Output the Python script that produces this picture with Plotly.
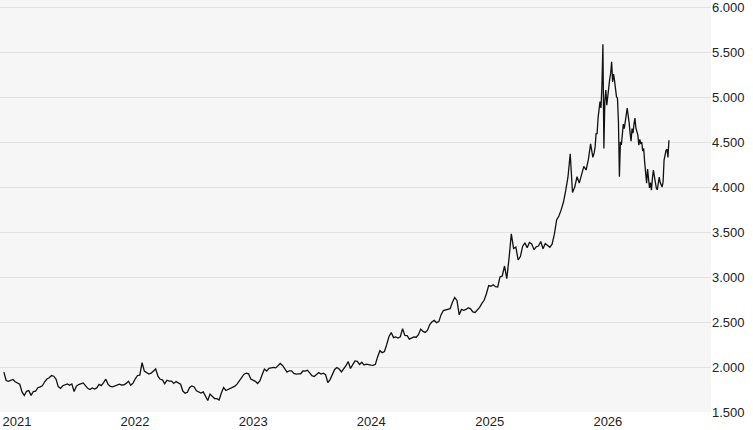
import pandas as pd
import plotly.graph_objects as go

# Weekly closes (Mondays)
prices_2021 = [1943, 1850, 1840, 1855, 1862, 1836, 1820, 1808, 1723, 1683, 1730, 1738, 1685,
               1728, 1732, 1770, 1780, 1792, 1836, 1867, 1881, 1905, 1898, 1865, 1782, 1762,
               1792, 1806, 1812, 1797, 1812, 1728, 1787, 1805, 1812, 1823, 1794, 1763, 1750,
               1767, 1755, 1768, 1806, 1793, 1826, 1865, 1807, 1785, 1779, 1787, 1796, 1810]
prices_2022 = [1800, 1802, 1818, 1842, 1797, 1821, 1869, 1906, 1910, 2048, 1955, 1936, 1922,
               1932, 1955, 1979, 1899, 1864, 1858, 1815, 1853, 1843, 1843, 1818, 1838, 1823,
               1808, 1733, 1709, 1719, 1772, 1790, 1779, 1736, 1725, 1710, 1724, 1675, 1628,
               1699, 1668, 1650, 1649, 1633, 1712, 1771, 1739, 1750, 1769, 1781, 1788, 1813]
prices_2023 = [1845, 1877, 1920, 1931, 1924, 1867, 1854, 1841, 1817, 1846, 1913, 1978, 1955,
               1985, 1990, 1995, 1990, 2015, 2040, 2017, 1972, 1944, 1958, 1958, 1930, 1922,
               1924, 1925, 1956, 1955, 1965, 1936, 1904, 1894, 1920, 1938, 1922, 1932, 1915,
               1828, 1860, 1920, 1973, 1995, 1977, 1946, 1977, 2014, 2060, 1983, 2027, 2068]
prices_2024 = [2063, 2028, 2053, 2022, 2032, 2024, 2020, 2018, 2031, 2115, 2182, 2160, 2172,
               2250, 2339, 2383, 2327, 2335, 2323, 2336, 2425, 2351, 2350, 2310, 2319, 2334,
               2331, 2359, 2422, 2396, 2385, 2410, 2472, 2503, 2518, 2493, 2505, 2582, 2628,
               2635, 2643, 2648, 2720, 2772, 2740, 2580, 2640, 2630, 2640, 2660, 2647, 2612, 2607]
prices_2025 = [2636, 2663, 2708, 2742, 2815, 2906, 2898, 2915, 2893, 2890, 3001, 3012, 3123,
               2983, 3210, 3480, 3318, 3333, 3190, 3228, 3343, 3380, 3325, 3385, 3368, 3305,
               3337, 3345, 3396, 3315, 3373, 3347, 3332, 3366, 3477, 3636, 3679, 3747, 3831,
               3960, 4110, 4370, 3940, 4000, 4115, 4045, 4135, 4230, 4190, 4305, 4480, 4330]
# 2026 sampled every three days
prices_2026 = [4380, 4450, 4600, 4590, 4767, 4850, 4950, 4880, 5133, 5589,
               4430, 4960, 5078, 4911, 5022, 5100, 5200, 5267, 5392, 5170,
               5256, 5180, 5100, 5003, 4989, 4725, 4114, 4503, 4470, 4611,
               4700, 4650, 4767, 4800, 4878, 4820, 4720, 4600, 4510, 4650,
               4600, 4700, 4767, 4655, 4600, 4578, 4467, 4530, 4480, 4500,
               4400, 4430, 4278, 4100, 4044, 4200, 4080, 3990, 4050, 3967,
               4100, 4189, 4120, 4040, 3990, 3970, 4060, 4110, 4050, 4030,
               4000, 4060, 4300, 4355, 4410, 4420, 4330, 4520]

weekly = prices_2021 + prices_2022 + prices_2023 + prices_2024 + prices_2025
dates = list(pd.date_range("2021-01-04", periods=len(weekly), freq="7D")) + \
        list(pd.date_range("2026-01-02", periods=len(prices_2026), freq="3D"))
prices = weekly + prices_2026

fig = go.Figure()
fig.add_trace(go.Scatter(x=dates, y=prices, mode="lines",
                         line=dict(color="#111111", width=1.3), showlegend=False))

fig.update_layout(
    width=753, height=430,
    margin=dict(l=0, r=42, t=0, b=18),
    paper_bgcolor="white", plot_bgcolor="#f6f6f6",
    separators=",.",
    font=dict(family="Liberation Sans, Arial, sans-serif", size=13, color="#222222"),
)
fig.update_xaxes(
    range=["2020-12-23", "2026-12-29"], dtick="M12", tick0="2021-01-01",
    tickformat="%Y", ticklabelshift=14, showgrid=False, zeroline=False,
    showline=False, ticks="",
)
fig.update_yaxes(
    side="right", range=[1500, 6080], dtick=500, tickformat=",.0f",
    ticklabeloverflow="allow",
    gridcolor="#e2e2e2", gridwidth=1, zeroline=False, showline=False, ticks="",
)

# drop the page's default body margin so the figure sits at the window corner
fig.write_html("out.html", config={"displayModeBar": False},
               post_script="document.body.style.margin='0';document.body.style.overflow='hidden';")
